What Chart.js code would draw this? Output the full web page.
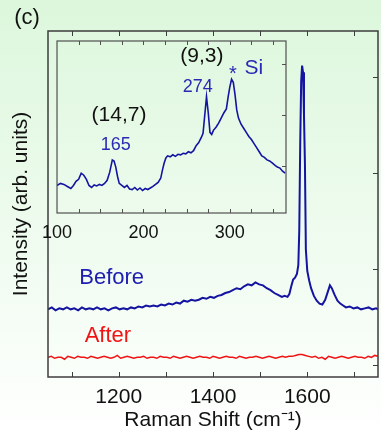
<!DOCTYPE html>
<html>
<head>
<meta charset="utf-8">
<script src="https://cdn.jsdelivr.net/npm/chart.js@4"></script>
<style>
  html, body { margin: 0; padding: 0; }
  body {
    width: 381px; height: 440px; position: relative; overflow: hidden;
    background: linear-gradient(#dcf7dc, #ffffff);
  }
  #main { position: absolute; left: 0; top: 0; }
  #inset { position: absolute; left: 33px; top: 28px; }
</style>
</head>
<body>
<canvas id="main" width="381" height="440"></canvas>
<canvas id="inset" width="262" height="220"></canvas>
<script>
const FONT = "'Liberation Sans', Arial, sans-serif";
const BLUE = "#1414a0";
const RED = "#f01414";

// === Main spectrum: Before ===
const beforeShift = [
  1050, 1058, 1066, 1074, 1082, 1090, 1098, 1106, 1114, 1122, 1130, 1138, 1146, 1154, 1162, 1170,
  1178, 1186, 1194, 1202, 1210, 1218, 1226, 1234, 1242, 1250, 1258, 1266, 1274, 1282, 1290, 1298,
  1306, 1314, 1322, 1330, 1338, 1346, 1354, 1362, 1370, 1378, 1386, 1394, 1402, 1410, 1418, 1426,
  1434, 1442, 1450, 1458, 1466, 1474, 1482, 1490, 1498, 1506, 1514, 1522, 1530, 1538, 1546, 1552,
  1558, 1562, 1566, 1570, 1574, 1578, 1581, 1583, 1585, 1587, 1589, 1591, 1593, 1595, 1597, 1600,
  1604, 1608, 1614, 1620, 1626, 1632, 1638, 1644, 1648, 1652, 1658, 1664, 1670, 1676, 1682, 1690,
  1698, 1706, 1714, 1722, 1730, 1738, 1746, 1750
];
const beforeIntensity = [
  0.58, 0.60, 0.57, 0.59, 0.58, 0.60, 0.58, 0.59, 0.57, 0.60, 0.58, 0.59, 0.58, 0.60, 0.58, 0.59,
  0.57, 0.59, 0.60, 0.58, 0.59, 0.58, 0.60, 0.59, 0.61, 0.60, 0.62, 0.61, 0.62, 0.61, 0.63, 0.62,
  0.64, 0.63, 0.65, 0.64, 0.67, 0.66, 0.68, 0.67, 0.68, 0.70, 0.69, 0.71, 0.70, 0.72, 0.73, 0.75,
  0.76, 0.78, 0.80, 0.79, 0.82, 0.84, 0.83, 0.86, 0.84, 0.83, 0.80, 0.78, 0.75, 0.73, 0.71, 0.72,
  0.71, 0.74, 0.82, 0.89, 0.91, 0.95, 1.04, 1.40, 2.30, 2.95, 3.12, 3.05, 2.60, 2.10, 1.20, 0.98,
  0.88, 0.80, 0.72, 0.67, 0.64, 0.63, 0.68, 0.77, 0.83, 0.80, 0.73, 0.67, 0.64, 0.62, 0.60, 0.61,
  0.59, 0.60, 0.58, 0.59, 0.60, 0.58, 0.59, 0.58
];

// === Main spectrum: After ===
const afterShift = [
  1050, 1057, 1064, 1071, 1078, 1085, 1092, 1099, 1106, 1113, 1120, 1127, 1134, 1141, 1148, 1155,
  1162, 1169, 1176, 1183, 1190, 1197, 1204, 1211, 1218, 1225, 1232, 1239, 1246, 1253, 1260, 1267,
  1274, 1281, 1288, 1295, 1302, 1309, 1316, 1323, 1330, 1337, 1344, 1351, 1358, 1365, 1372, 1379,
  1386, 1393, 1400, 1407, 1414, 1421, 1428, 1435, 1442, 1449, 1456, 1463, 1470, 1477, 1484, 1491,
  1498, 1505, 1512, 1519, 1526, 1533, 1540, 1547, 1554, 1561, 1568, 1575, 1582, 1589, 1596, 1603,
  1610, 1617, 1624, 1631, 1638, 1645, 1652, 1659, 1666, 1673, 1680, 1687, 1694, 1701, 1708, 1715,
  1722, 1729, 1736, 1743, 1750
];
const afterIntensity = [
  0.08, 0.09, 0.07, 0.08, 0.08, 0.06, 0.09, 0.08, 0.07, 0.09, 0.08, 0.08, 0.07, 0.09, 0.08, 0.07,
  0.08, 0.09, 0.08, 0.07, 0.08, 0.10, 0.07, 0.08, 0.09, 0.08, 0.07, 0.08, 0.08, 0.09, 0.07, 0.08,
  0.08, 0.07, 0.09, 0.08, 0.08, 0.07, 0.09, 0.08, 0.07, 0.08, 0.09, 0.08, 0.07, 0.08, 0.09, 0.08,
  0.08, 0.07, 0.09, 0.08, 0.07, 0.08, 0.09, 0.08, 0.08, 0.07, 0.09, 0.08, 0.07, 0.08, 0.08, 0.09,
  0.08, 0.07, 0.08, 0.09, 0.08, 0.07, 0.08, 0.09, 0.08, 0.09, 0.09, 0.10, 0.11, 0.11, 0.10, 0.09,
  0.08, 0.09, 0.07, 0.08, 0.06, 0.09, 0.08, 0.07, 0.08, 0.09, 0.08, 0.07, 0.08, 0.09, 0.08, 0.08,
  0.07, 0.09, 0.08, 0.10, 0.09
];

// === Inset spectrum (RBM region) ===
const insetShift = [
  100, 104, 108, 112, 116, 119, 122, 125, 128, 131, 134, 137, 140, 143, 146, 149,
  152, 155, 158, 161, 164, 166, 168, 170, 172, 175, 178, 181, 184, 187, 190, 193,
  196, 199, 202, 205, 208, 211, 214, 217, 220, 222, 224, 226, 228, 231, 234, 237,
  240, 243, 246, 249, 252, 255, 258, 261, 264, 267, 269, 271, 273, 275, 277, 279,
  281, 284, 287, 290, 293, 296, 298, 300, 302, 304, 306, 308, 310, 313, 316, 319,
  322, 325, 328, 331, 334, 337, 340, 343, 346, 349, 352, 355, 358, 361, 364
];
const insetIntensity = [
  0.62, 0.66, 0.64, 0.60, 0.56, 0.62, 0.70, 0.74, 0.86, 0.82, 0.74, 0.62, 0.58, 0.63, 0.61, 0.64,
  0.62, 0.66, 0.72, 0.88, 1.12, 1.10, 0.98, 0.80, 0.66, 0.62, 0.58, 0.62, 0.55, 0.54, 0.58, 0.53,
  0.57, 0.52, 0.56, 0.54, 0.57, 0.60, 0.64, 0.68, 0.76, 0.92, 1.06, 1.16, 1.20, 1.18, 1.22, 1.19,
  1.23, 1.22, 1.25, 1.24, 1.28, 1.26, 1.30, 1.40, 1.46, 1.56, 1.64, 2.00, 2.36, 2.05, 1.66, 1.62,
  1.70, 1.76, 1.84, 1.94, 2.04, 2.12, 2.35, 2.55, 2.70, 2.64, 2.40, 2.10, 1.94, 1.82, 1.74, 1.66,
  1.58, 1.52, 1.44, 1.36, 1.28, 1.20, 1.17, 1.12, 1.10, 1.06, 1.02, 0.98, 0.96, 0.90, 0.86
];

// === Ticks ===
const mainXLabels = [1200, 1400, 1600];
const mainXTicks = [1100, 1200, 1300, 1400, 1500, 1600, 1700];
const mainYTicks = [0, 1, 2, 3];
const insetXLabels = [100, 200, 300];
const insetXTicks = [125, 150, 175, 200, 225, 250, 275, 300, 325, 350];
const insetYTicks = [1, 2, 3];

const toPoints = (xs, ys) => xs.map((x, i) => ({ x, y: ys[i] }));

// frame + inward tick marks
const frameTicks = {
  id: "frameTicks",
  afterDatasetsDraw(chart, args, opts) {
    const { ctx, chartArea: a, scales } = chart;
    ctx.save();
    ctx.strokeStyle = opts.color;
    ctx.lineWidth = 1;
    ctx.beginPath();
    opts.xTicks.forEach((v) => {
      const px = Math.round(scales.x.getPixelForValue(v)) + 0.5;
      ctx.moveTo(px, a.bottom); ctx.lineTo(px, a.bottom - opts.len);
      ctx.moveTo(px, a.top); ctx.lineTo(px, a.top + opts.len);
    });
    opts.yTicks.forEach((v) => {
      const py = Math.round(scales.y.getPixelForValue(v)) + 0.5;
      ctx.moveTo(a.right, py); ctx.lineTo(a.right - opts.len, py);
    });
    ctx.stroke();
    ctx.lineWidth = opts.width;
    ctx.strokeRect(a.left, a.top, a.right - a.left, a.bottom - a.top);
    ctx.restore();
  },
};

// text notes placed in data coordinates (or raw pixels for the panel letter)
const notes = {
  id: "notes",
  afterDraw(chart, args, opts) {
    const { ctx, scales } = chart;
    ctx.save();
    ctx.textAlign = "center";
    ctx.textBaseline = "middle";
    opts.items.forEach((n) => {
      ctx.font = `${n.size}px ${FONT}`;
      ctx.fillStyle = n.color;
      const x = n.px ? n.px[0] : scales.x.getPixelForValue(n.x);
      const y = n.px ? n.px[1] : scales.y.getPixelForValue(n.y);
      ctx.fillText(n.text, x, y);
    });
    ctx.restore();
  },
};

// === Main chart ===
new Chart(document.getElementById("main"), {
  type: "line",
  data: {
    datasets: [
      { data: toPoints(beforeShift, beforeIntensity), borderColor: BLUE, borderWidth: 2, pointRadius: 0 },
      { data: toPoints(afterShift, afterIntensity), borderColor: RED, borderWidth: 1.5, pointRadius: 0 },
    ],
  },
  options: {
    responsive: false,
    animation: false,
    layout: { padding: { top: 31, right: 3, left: 0, bottom: 0 } },
    plugins: {
      legend: { display: false },
      tooltip: { enabled: false },
      frameTicks: { color: "#3c3c3c", width: 1.5, len: 5, xTicks: mainXTicks, yTicks: mainYTicks },
      notes: {
        items: [
          { text: "(c)", px: [27, 18], size: 22, color: "#111" },
          { text: "Before", x: 1185, y: 0.91, size: 22, color: "#2020b0" },
          { text: "After", x: 1177, y: 0.30, size: 22, color: RED },
        ],
      },
    },
    scales: {
      x: {
        type: "linear",
        min: 1050,
        max: 1750,
        grid: { display: false, drawTicks: false },
        border: { display: false },
        afterBuildTicks: (s) => { s.ticks = mainXLabels.map((v) => ({ value: v })); },
        ticks: {
          font: { size: 21, family: FONT },
          color: "#111",
          padding: 8,
          maxRotation: 0,
          callback: (v) => String(v),
        },
        title: {
          display: true,
          text: "Raman Shift (cm\u207B\u00B9)",
          font: { size: 21, family: FONT },
          color: "#111",
          padding: { top: 0, bottom: 7 },
        },
        afterFit: (s) => { s.height = 63; },
      },
      y: {
        min: -0.125,
        max: 3.48,
        grid: { display: false, drawTicks: false },
        border: { display: false },
        ticks: { display: false },
        title: {
          display: true,
          text: "Intensity (arb. units)",
          font: { size: 21, family: FONT },
          color: "#111",
          padding: { top: 9, bottom: 0 },
        },
        afterFit: (s) => { s.width = 48; },
      },
    },
  },
  plugins: [frameTicks, notes],
});

// === Inset chart ===
const insetCanvas = document.getElementById("inset");
const inset = new Chart(insetCanvas, {
  type: "line",
  data: {
    datasets: [
      { data: toPoints(insetShift, insetIntensity), borderColor: BLUE, borderWidth: 1.6, pointRadius: 0 },
    ],
  },
  options: {
    responsive: false,
    animation: false,
    // the "100" label pushes the left edge to ~24px; right padding keeps the box 229px wide
    layout: { padding: { left: 17, right: 9, top: 13, bottom: 0 } },
    plugins: {
      legend: { display: false },
      tooltip: { enabled: false },
      frameTicks: { color: "#505050", width: 1.2, len: 4, xTicks: insetXTicks, yTicks: insetYTicks },
      notes: {
        items: [
          { text: "(14,7)", x: 171.7, y: 2.0, size: 21, color: "#111" },
          { text: "165", x: 168, y: 1.41, size: 18, color: "#2a2ab4" },
          { text: "(9,3)", x: 267.6, y: 3.16, size: 21, color: "#111" },
          { text: "274", x: 263, y: 2.55, size: 18, color: "#2a2ab4" },
          { text: "*", x: 303.5, y: 2.80, size: 20, color: "#2a2ab4" },
          { text: "Si", x: 327.7, y: 2.92, size: 21, color: "#2a2ab4" },
        ],
      },
    },
    scales: {
      x: {
        type: "linear",
        min: 100,
        max: 365,
        grid: { display: false, drawTicks: false },
        border: { display: false },
        afterBuildTicks: (s) => { s.ticks = insetXLabels.map((v) => ({ value: v })); },
        ticks: {
          font: { size: 18, family: FONT },
          color: "#111",
          padding: 9,
          maxRotation: 0,
          callback: (v) => String(v),
        },
        afterFit: (s) => { s.height = 35; },
      },
      y: { display: false, min: 0.08, max: 3.45 },
    },
  },
  plugins: [frameTicks, notes],
});

// pin the inset plot box's top-left corner to (57,41) in the figure
const ia = inset.chartArea;
insetCanvas.style.left = (57 - ia.left) + "px";
insetCanvas.style.top = (41 - ia.top) + "px";
</script>
</body>
</html>
